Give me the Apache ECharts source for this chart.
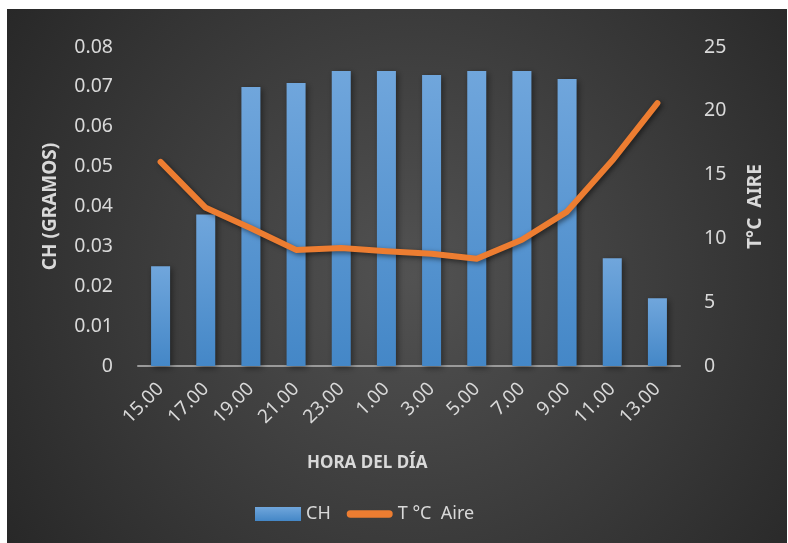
<!DOCTYPE html>
<html>
<head>
<meta charset="utf-8">
<script src="https://cdn.jsdelivr.net/npm/echarts@6/dist/echarts.min.js"></script>
<style>
  html, body { margin: 0; padding: 0; background: #fff; }
  #main { width: 788px; height: 543px; }
</style>
</head>
<body>
<div id="main"></div>
<script>
// horas del día
var horas = ['15.00', '17.00', '19.00', '21.00', '23.00', '1.00', '3.00', '5.00', '7.00', '9.00', '11.00', '13.00'];
// CH (gramos)
var ch = [0.025, 0.038, 0.070, 0.071, 0.074, 0.074, 0.073, 0.074, 0.074, 0.072, 0.027, 0.017];
// T °C aire
var tAire = [16.0, 12.4, 10.8, 9.1, 9.25, 9.0, 8.8, 8.4, 9.9, 12.1, 16.1, 20.6];
var ticksCH = [0, 0.08, 0.01];
var ticksT = [0, 25, 5];

var txt = '#d9d9d9';
var font = 'Noto Sans';

var chart = echarts.init(document.getElementById('main'));

var option = {
  backgroundColor: '#ffffff',
  textStyle: { fontFamily: font },
  graphic: [{
    type: 'rect',
    z: -10,
    silent: true,
    shape: { x: 7, y: 9, width: 780, height: 534 },
    style: {
      fill: {
        type: 'radial', x: 0.52, y: 0.5, r: 0.95,
        colorStops: [
          { offset: 0, color: '#525252' },
          { offset: 1, color: '#262626' }
        ]
      }
    }
  }, {
    type: 'text',
    left: 307,
    top: 455,
    silent: true,
    style: {
      text: 'HORA DEL DÍA',
      fill: txt,
      font: 'bold 17px "Noto Sans"'
    }
  }],
  legend: {
    bottom: 15,
    left: 250,
    itemWidth: 46,
    itemHeight: 14,
    itemGap: 16,
    textStyle: { color: txt, fontSize: 18, fontFamily: font },
    data: [
      { name: 'CH', icon: 'rect' },
      { name: 'T °C  Aire', icon: 'path://M4,0 L46,0 A4,4 0 0 1 46,8 L4,8 A4,4 0 0 1 4,0 Z' }
    ]
  },
  grid: { left: 138, right: 108, top: 47, bottom: 177 },
  xAxis: {
    type: 'category',
    data: horas,
    axisLine: { lineStyle: { color: '#9a9a9a', width: 2 } },
    axisTick: { show: false },
    axisLabel: { color: txt, fontSize: 19, rotate: 45, margin: 20, interval: 0 }
  },
  yAxis: [{
    type: 'value',
    min: ticksCH[0], max: ticksCH[1], interval: ticksCH[2],
    name: 'CH (GRAMOS)',
    nameLocation: 'middle',
    nameGap: 78,
    nameTextStyle: { color: txt, fontSize: 19, fontWeight: 'bold' },
    axisLine: { show: false },
    axisTick: { show: false },
    splitLine: { show: false },
    axisLabel: { color: txt, fontSize: 19.5, margin: 25, formatter: function (v) { return v === 0 ? '0' : v.toFixed(2); } }
  }, {
    type: 'value',
    min: ticksT[0], max: ticksT[1], interval: ticksT[2],
    name: 'T°C  AIRE',
    nameLocation: 'middle',
    nameGap: 66,
    nameRotate: 90,
    nameTextStyle: { color: txt, fontSize: 19, fontWeight: 'bold' },
    axisLine: { show: false },
    axisTick: { show: false },
    splitLine: { show: false },
    axisLabel: { color: txt, fontSize: 19.5, margin: 24 }
  }],
  series: [{
    name: 'CH',
    type: 'bar',
    data: ch,
    barWidth: 19,
    itemStyle: {
      color: new echarts.graphic.LinearGradient(0, 0, 0, 1, [
        { offset: 0, color: '#70a6dc' },
        { offset: 1, color: '#4487c7' }
      ]),
      shadowColor: 'rgba(0,0,0,0.45)',
      shadowBlur: 6,
      shadowOffsetX: 2,
      shadowOffsetY: 2
    }
  }, {
    name: 'T °C  Aire',
    type: 'line',
    yAxisIndex: 1,
    data: tAire,
    showSymbol: false,
    symbol: 'none',
    itemStyle: { color: '#ed7d31' },
    lineStyle: {
      color: '#ed7d31',
      width: 6,
      cap: 'round',
      join: 'round',
      shadowColor: 'rgba(0,0,0,0.5)',
      shadowBlur: 5,
      shadowOffsetX: 2,
      shadowOffsetY: 2
    }
  }]
};

chart.setOption(option);
</script>
</body>
</html>
